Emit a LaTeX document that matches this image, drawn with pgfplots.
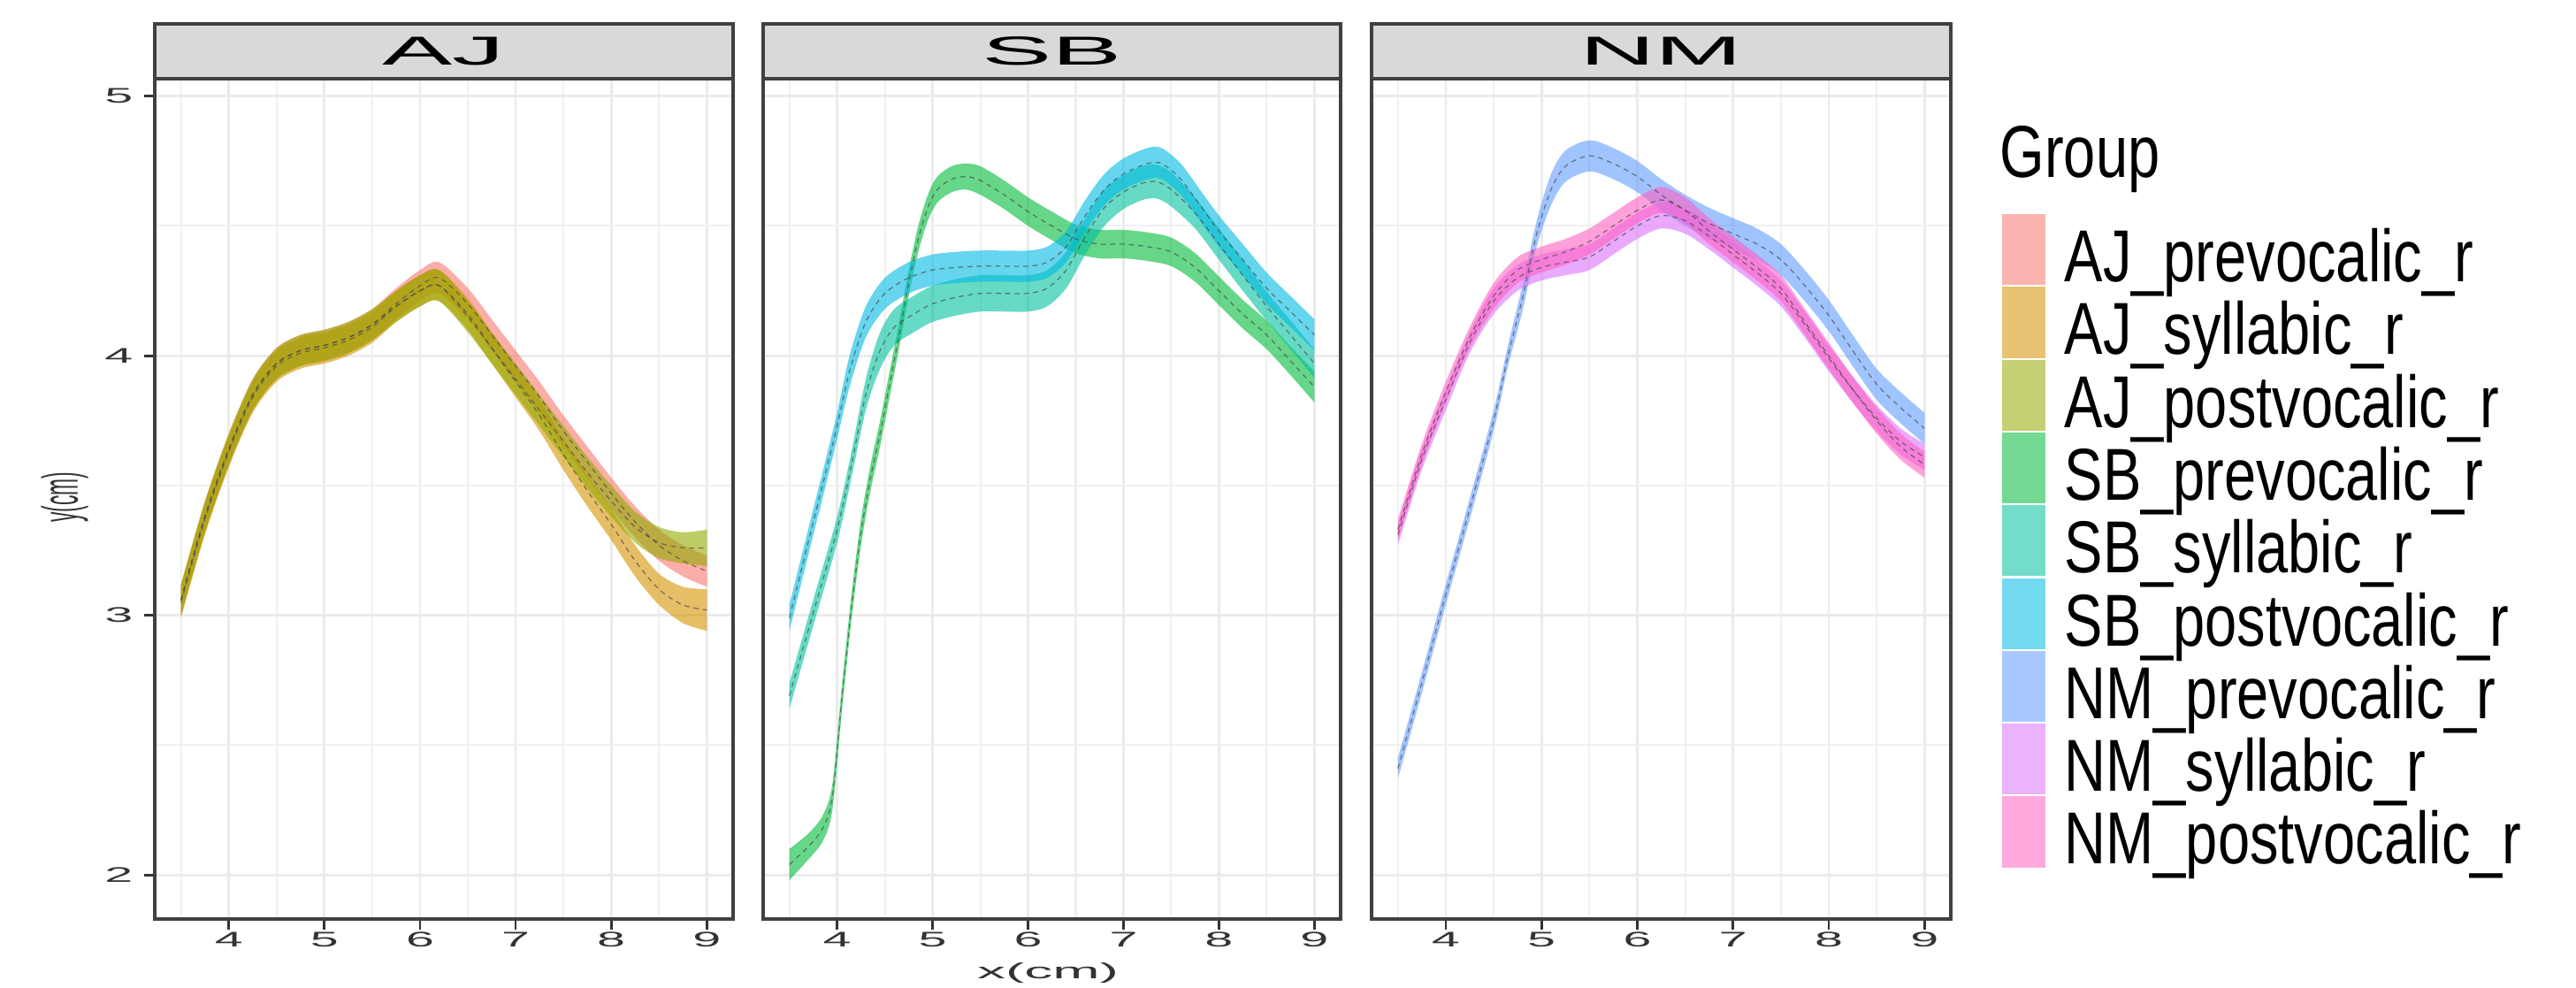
\documentclass[border=0pt]{standalone}
\usepackage{fontspec}
\setmainfont{Liberation Sans}
\usepackage{pgfplots}
\usepackage{pgfplotstable}
\pgfplotsset{compat=1.18}
\usepgfplotslibrary{fillbetween}
\usetikzlibrary{calc}

% ggplot hue palette, 9 groups
\definecolor{cAJpre}{HTML}{F8766D}
\definecolor{cAJsyl}{HTML}{D39200}
\definecolor{cAJpost}{HTML}{93AA00}
\definecolor{cSBpre}{HTML}{00BA38}
\definecolor{cSBsyl}{HTML}{00C19F}
\definecolor{cSBpost}{HTML}{00B9E3}
\definecolor{cNMpre}{HTML}{619CFF}
\definecolor{cNMsyl}{HTML}{DB72FB}
\definecolor{cNMpost}{HTML}{FF61C3}
\definecolor{gridc}{HTML}{EBEBEB}
\definecolor{stripc}{HTML}{D9D9D9}

% the facets are stretched sideways in the reference
\newcommand{\sx}[2][2.4]{\scalebox{#1}[1]{#2}}

% ---- data: x, mean, lower, upper ----
\pgfplotstableread{
x y lo hi
3.5 3.06 3.00 3.12
3.75 3.38 3.32 3.44
4.0 3.64 3.58 3.70
4.25 3.85 3.79 3.91
4.5 3.97 3.91 4.03
4.75 4.02 3.96 4.08
5.0 4.04 3.98 4.10
5.25 4.07 4.01 4.13
5.5 4.12 4.06 4.18
5.75 4.20 4.14 4.26
6.0 4.27 4.21 4.33
6.2 4.30 4.24 4.36
6.5 4.20 4.14 4.26
6.75 4.08 4.02 4.14
7.0 3.96 3.90 4.02
7.25 3.84 3.78 3.90
7.5 3.71 3.65 3.77
7.75 3.59 3.53 3.65
8.0 3.47 3.41 3.53
8.25 3.36 3.30 3.42
8.5 3.27 3.21 3.33
8.75 3.21 3.15 3.27
9.0 3.17 3.11 3.23
}\AJpre
\pgfplotstableread{
x y lo hi
3.5 3.05 2.99 3.11
3.75 3.37 3.31 3.43
4.0 3.63 3.57 3.69
4.25 3.84 3.78 3.90
4.5 3.96 3.90 4.02
4.75 4.01 3.95 4.07
5.0 4.03 3.97 4.09
5.25 4.06 4.00 4.12
5.5 4.11 4.05 4.17
5.75 4.19 4.13 4.25
6.0 4.25 4.19 4.31
6.2 4.27 4.21 4.33
6.5 4.16 4.10 4.22
6.75 4.03 3.97 4.09
7.0 3.90 3.84 3.96
7.25 3.77 3.71 3.83
7.5 3.62 3.56 3.68
7.75 3.48 3.42 3.54
8.0 3.35 3.29 3.41
8.25 3.21 3.15 3.27
8.5 3.10 3.04 3.16
8.75 3.04 2.97 3.11
9.0 3.02 2.94 3.10
}\AJsyl
\pgfplotstableread{
x y lo hi
3.5 3.06 3.00 3.12
3.75 3.38 3.32 3.44
4.0 3.64 3.58 3.70
4.25 3.85 3.79 3.91
4.5 3.97 3.91 4.03
4.75 4.02 3.96 4.08
5.0 4.04 3.98 4.10
5.25 4.07 4.01 4.13
5.5 4.12 4.06 4.18
5.75 4.19 4.13 4.25
6.0 4.25 4.19 4.31
6.2 4.27 4.21 4.33
6.5 4.15 4.09 4.21
6.75 4.03 3.97 4.09
7.0 3.91 3.85 3.97
7.25 3.79 3.73 3.85
7.5 3.67 3.61 3.73
7.75 3.55 3.49 3.61
8.0 3.44 3.38 3.50
8.25 3.34 3.28 3.40
8.5 3.28 3.22 3.34
8.75 3.26 3.20 3.32
9.0 3.26 3.19 3.33
}\AJpost
\pgfplotstableread{
x y lo hi
3.5 2.04 1.98 2.10
3.7 2.11 2.06 2.16
3.85 2.18 2.13 2.23
3.95 2.30 2.25 2.35
4.05 2.68 2.63 2.73
4.15 3.03 2.98 3.08
4.25 3.32 3.27 3.37
4.35 3.53 3.48 3.58
4.45 3.70 3.65 3.75
4.55 3.89 3.84 3.94
4.65 4.08 4.03 4.13
4.75 4.28 4.23 4.33
4.85 4.45 4.40 4.50
4.95 4.57 4.52 4.62
5.05 4.64 4.59 4.69
5.2 4.68 4.63 4.73
5.35 4.69 4.64 4.74
5.5 4.675 4.62 4.73
5.75 4.62 4.565 4.675
6.0 4.555 4.50 4.61
6.25 4.50 4.445 4.555
6.5 4.45 4.395 4.505
6.75 4.43 4.375 4.485
7.0 4.43 4.375 4.485
7.25 4.42 4.365 4.475
7.5 4.40 4.345 4.455
7.75 4.34 4.285 4.395
8.0 4.25 4.195 4.305
8.25 4.16 4.105 4.215
8.5 4.08 4.025 4.135
8.75 3.98 3.925 4.035
9.0 3.88 3.82 3.94
}\SBpre
\pgfplotstableread{
x y lo hi
3.5 2.69 2.64 2.74
3.75 3.01 2.96 3.06
4.0 3.33 3.28 3.38
4.15 3.58 3.53 3.63
4.3 3.85 3.79 3.91
4.45 4.02 3.95 4.09
4.6 4.11 4.04 4.18
4.8 4.16 4.09 4.23
5.0 4.20 4.13 4.27
5.25 4.225 4.155 4.295
5.5 4.24 4.17 4.31
5.75 4.24 4.17 4.31
6.0 4.24 4.17 4.31
6.2 4.26 4.19 4.33
6.4 4.33 4.26 4.40
6.6 4.46 4.39 4.53
6.8 4.57 4.50 4.64
7.0 4.63 4.565 4.695
7.2 4.665 4.60 4.73
7.35 4.67 4.605 4.735
7.5 4.64 4.575 4.705
7.75 4.55 4.49 4.61
8.0 4.43 4.37 4.49
8.25 4.31 4.25 4.37
8.5 4.19 4.135 4.245
8.75 4.08 4.025 4.135
9.0 3.97 3.915 4.025
}\SBsyl
\pgfplotstableread{
x y lo hi
3.5 2.99 2.94 3.04
3.73 3.33 3.28 3.38
3.86 3.52 3.47 3.57
4.0 3.73 3.68 3.78
4.13 3.94 3.88 4.00
4.3 4.13 4.07 4.19
4.5 4.24 4.18 4.30
4.75 4.30 4.24 4.36
5.0 4.33 4.27 4.39
5.25 4.34 4.28 4.40
5.5 4.345 4.285 4.405
5.75 4.345 4.285 4.405
6.0 4.345 4.285 4.405
6.2 4.36 4.30 4.42
6.4 4.42 4.36 4.48
6.6 4.54 4.48 4.60
6.8 4.64 4.58 4.70
7.0 4.70 4.64 4.76
7.25 4.74 4.68 4.80
7.4 4.74 4.68 4.80
7.6 4.68 4.62 4.74
7.8 4.58 4.52 4.64
8.0 4.48 4.42 4.54
8.25 4.37 4.31 4.43
8.5 4.26 4.20 4.32
8.75 4.17 4.11 4.23
9.0 4.08 4.02 4.14
}\SBpost
\pgfplotstableread{
x y lo hi
3.5 2.41 2.37 2.45
3.75 2.74 2.70 2.78
4.0 3.08 3.04 3.12
4.25 3.41 3.37 3.45
4.5 3.75 3.71 3.79
4.65 4.00 3.96 4.04
4.8 4.22 4.17 4.27
4.95 4.47 4.42 4.52
5.1 4.64 4.58 4.70
5.25 4.73 4.67 4.79
5.5 4.77 4.71 4.83
5.75 4.74 4.68 4.80
6.0 4.69 4.63 4.75
6.25 4.62 4.56 4.68
6.5 4.56 4.50 4.62
6.75 4.51 4.45 4.57
7.0 4.47 4.41 4.53
7.25 4.43 4.37 4.49
7.5 4.37 4.31 4.43
7.75 4.27 4.21 4.33
8.0 4.155 4.095 4.215
8.25 4.02 3.96 4.08
8.5 3.89 3.83 3.95
8.75 3.80 3.74 3.86
9.0 3.72 3.66 3.78
}\NMpre
\pgfplotstableread{
x y lo hi
3.5 3.31 3.27 3.35
3.75 3.60 3.56 3.64
4.0 3.83 3.79 3.87
4.25 4.05 4.01 4.09
4.5 4.21 4.16 4.26
4.75 4.30 4.25 4.35
5.0 4.34 4.29 4.39
5.25 4.36 4.31 4.41
5.5 4.38 4.33 4.43
5.75 4.44 4.39 4.49
6.0 4.50 4.45 4.55
6.25 4.54 4.49 4.59
6.5 4.52 4.47 4.57
6.75 4.46 4.41 4.51
7.0 4.39 4.34 4.44
7.25 4.32 4.27 4.37
7.5 4.24 4.19 4.29
7.75 4.12 4.07 4.17
8.0 3.99 3.94 4.04
8.25 3.87 3.82 3.92
8.5 3.76 3.71 3.81
8.75 3.67 3.62 3.72
9.0 3.61 3.56 3.66
}\NMsyl
\pgfplotstableread{
x y lo hi
3.5 3.33 3.29 3.37
3.75 3.62 3.58 3.66
4.0 3.86 3.82 3.90
4.25 4.07 4.03 4.11
4.5 4.23 4.18 4.28
4.75 4.33 4.28 4.38
5.0 4.37 4.32 4.42
5.25 4.40 4.35 4.45
5.5 4.44 4.39 4.49
5.75 4.50 4.45 4.55
6.0 4.56 4.51 4.61
6.25 4.60 4.55 4.65
6.5 4.56 4.51 4.61
6.75 4.48 4.43 4.53
7.0 4.41 4.36 4.46
7.25 4.34 4.29 4.39
7.5 4.26 4.21 4.31
7.75 4.13 4.08 4.18
8.0 4.00 3.95 4.05
8.25 3.87 3.82 3.92
8.5 3.75 3.70 3.80
8.75 3.65 3.60 3.70
9.0 3.58 3.53 3.63
}\NMpost

% ribbon + dashed mean: #1 table, #2 colour, #3 path name
\newcommand{\band}[3]{%
  \addplot[name path=#3hi, draw=none, smooth] table[x=x, y=hi] {#1};
  \addplot[name path=#3lo, draw=none, smooth] table[x=x, y=lo] {#1};
  \addplot[fill=#2, fill opacity=0.6, draw=none] fill between[of=#3hi and #3lo];
  \addplot[smooth, black!70, line width=0.35pt, opacity=0.7,
    dash pattern=on 1.6pt off 1.4pt] table[x=x, y=y] {#1};
}

\pgfplotsset{facet/.style={
  scale only axis, anchor=south west,
  height=9.50cm,
  xmin=3.225, xmax=9.275, ymin=1.83, ymax=5.067,
  xtick={4,5,6,7,8,9}, ytick={2,3,4,5},
  minor xtick={3.5,4.5,5.5,6.5,7.5,8.5}, minor ytick={2.5,3.5,4.5},
  grid=both,
  major grid style={draw=gridc, line width=0.8pt},
  minor grid style={draw=gridc!75, line width=0.6pt},
  axis line style={draw=black!75, line width=0.9pt},
  tick align=outside, xtick pos=bottom, ytick pos=left,
  minor tick length=0pt,
  xtick style={draw=black!80, line width=0.8pt},
  ytick style={draw=black!80, line width=0.8pt},
  major tick length=0.12cm,
  xticklabels={\sx{4},\sx{5},\sx{6},\sx{7},\sx{8},\sx{9}},
  ticklabel style={font=\fontsize{6.8}{8}\selectfont, text=black!80},
  xticklabel style={inner sep=0pt, yshift=-0.02cm},
  yticklabel style={inner sep=0pt, xshift=-0.12cm},
}}

\begin{document}
\begin{tikzpicture}[x=1cm, y=1cm]

% ---- AJ ----
\begin{axis}[facet, at={(1.75cm,0.77cm)}, width=6.54cm,
  yticklabels={\sx{2},\sx{3},\sx{4},\sx{5}}]
\band{\AJpre}{cAJpre}{a}
\band{\AJsyl}{cAJsyl}{b}
\band{\AJpost}{cAJpost}{c}
\end{axis}

% ---- SB ----
\begin{axis}[facet, at={(8.63cm,0.77cm)}, width=6.53cm,
  yticklabels={}, ytick style={draw=none}]
\band{\SBpre}{cSBpre}{a}
\band{\SBsyl}{cSBsyl}{b}
\band{\SBpost}{cSBpost}{c}
\end{axis}

% ---- NM ----
\begin{axis}[facet, at={(15.51cm,0.77cm)}, width=6.55cm,
  yticklabels={}, ytick style={draw=none}]
\band{\NMpre}{cNMpre}{a}
\band{\NMsyl}{cNMsyl}{b}
\band{\NMpost}{cNMpost}{c}
\end{axis}

% facet strips
\foreach \xa/\xb/\lab in {1.75/8.29/AJ, 8.63/15.16/SB, 15.51/22.06/NM} {
  \draw[fill=stripc, draw=black!75, line width=0.9pt] (\xa,10.27) rectangle (\xb,10.89);
  \node[inner sep=0pt] at ({(\xa+\xb)/2},10.58) {\fontsize{13}{15}\selectfont\sx[2.6]{\lab}};
}

% axis titles
\node[text=black!80, inner sep=0pt] at (11.85,0.16) {\fontsize{7}{8}\selectfont\sx[2.6]{x(cm)}};
\node[text=black!80, inner sep=0pt, rotate=90] at (0.73,5.54) {\fontsize{6.5}{8}\selectfont\scalebox{1}[2.5]{y(cm)}};

% legend
\node[anchor=base west, inner sep=0pt] at (22.61,9.16) {\fontsize{18.5}{20}\selectfont\scalebox{1}[1.28]{Group}};
\foreach \c/\lab [count=\i from 0] in {
  cAJpre/AJ\_prevocalic\_r, cAJsyl/AJ\_syllabic\_r, cAJpost/AJ\_postvocalic\_r,
  cSBpre/SB\_prevocalic\_r, cSBsyl/SB\_syllabic\_r, cSBpost/SB\_postvocalic\_r,
  cNMpre/NM\_prevocalic\_r, cNMsyl/NM\_syllabic\_r, cNMpost/NM\_postvocalic\_r} {
  \pgfmathsetmacro{\yt}{11.16-2.41-0.823*\i}
  \fill[\c, fill opacity=0.55] (22.63,\yt-0.823) rectangle (23.14,\yt);
  \draw[white, line width=0.6pt] (22.63,\yt-0.823) rectangle (23.14,\yt);
  \node[anchor=base west, inner sep=0pt] at (23.34,\yt-0.775) {\fontsize{18.5}{20}\selectfont\scalebox{1}[1.28]{\lab}};
}

% page = reference frame
\pgfresetboundingbox
\useasboundingbox (0,0) rectangle (29.13,11.16);
\end{tikzpicture}
\end{document}
